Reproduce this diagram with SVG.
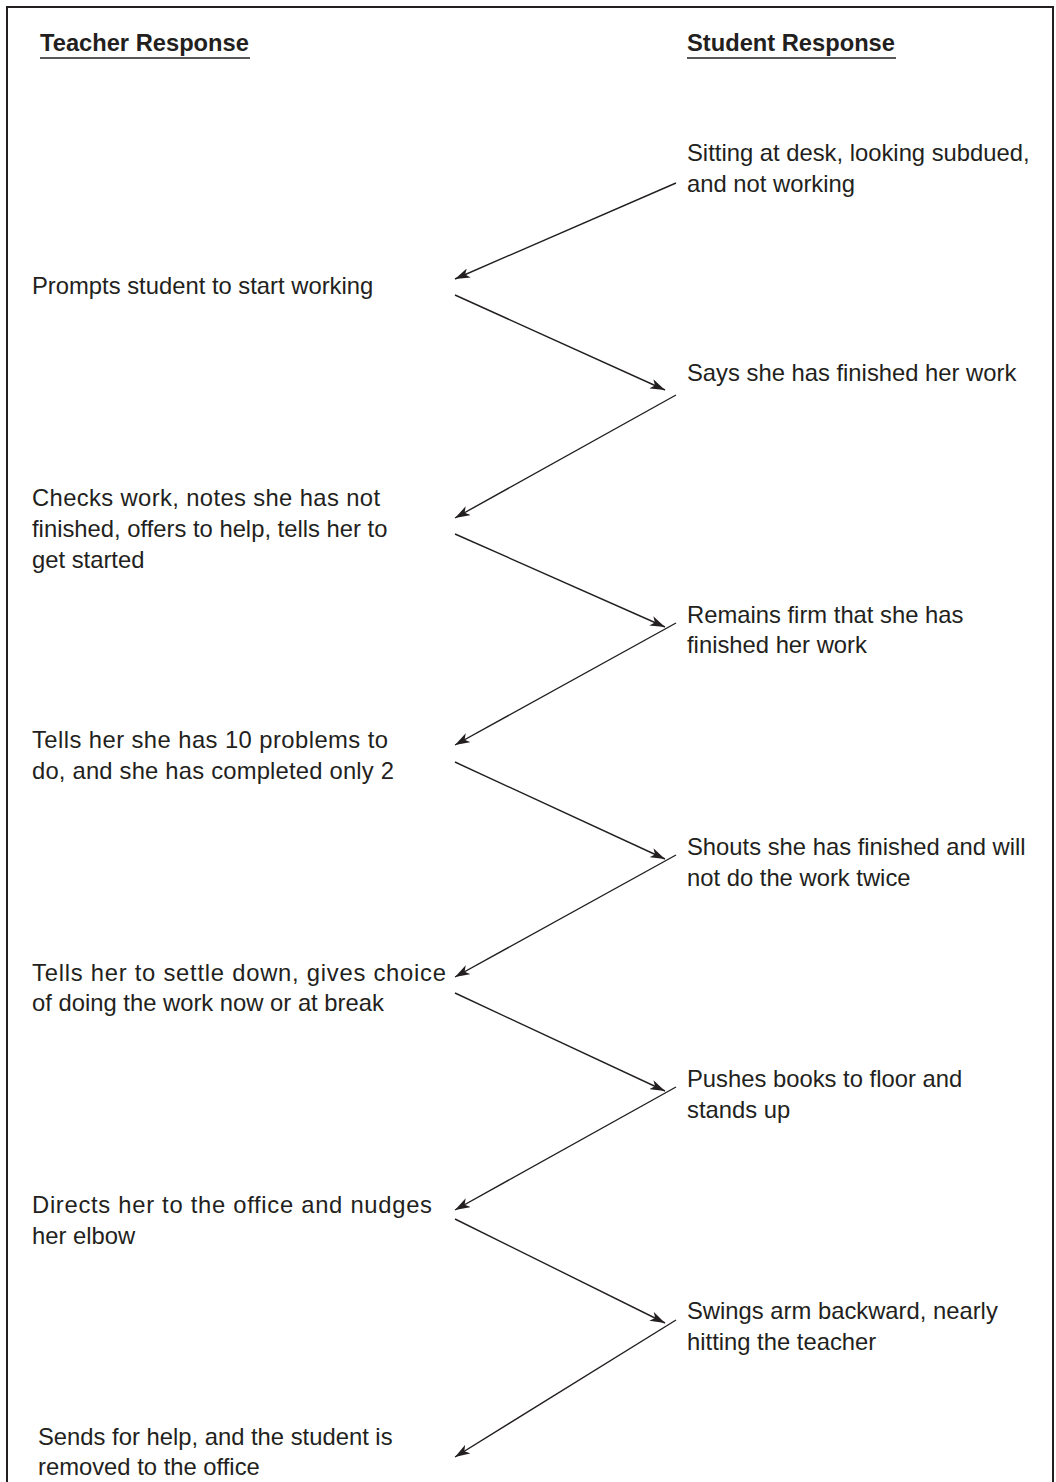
<svg xmlns="http://www.w3.org/2000/svg" width="1056" height="1482" viewBox="0 0 1056 1482">
<style>
text{font-family:"Liberation Sans",Arial,Helvetica,sans-serif;font-size:23.8px;fill:#231f20}
.h{font-weight:bold;font-size:23.7px}
.c line{stroke:#231f20;stroke-width:1.4}
</style>
<defs>
<marker id="ah" viewBox="0 0 15 10" refX="15" refY="5" markerWidth="15" markerHeight="10" markerUnits="userSpaceOnUse" orient="auto">
<path d="M0,0 L15,5 L0,10 L4,5 Z" fill="#231f20"/>
</marker>
</defs>
<rect width="1056" height="1482" fill="#fff"/>
<path d="M7,1482 V7 H1053 V1482" fill="none" stroke="#231f20" stroke-width="2"/>
<g id="headers">
<text class="h" x="40" y="51">Teacher Response</text>
<line x1="40" y1="58" x2="250" y2="58" stroke="#231f20" stroke-width="1.6"/>
<text class="h" x="687" y="51">Student Response</text>
<line x1="687" y1="58" x2="896" y2="58" stroke="#231f20" stroke-width="1.6"/>
</g>
<g id="s1"><text x="687" y="161">Sitting at desk, looking subdued,</text><text x="687" y="192">and not working</text></g>
<g id="t1"><text x="32" y="294">Prompts student to start working</text></g>
<g id="s2"><text x="687" y="381">Says she has finished her work</text></g>
<g id="t2"><text x="32" y="506" textLength="348" lengthAdjust="spacing">Checks work, notes she has not</text><text x="32" y="537">finished, offers to help, tells her to</text><text x="32" y="568">get started</text></g>
<g id="s3"><text x="687" y="623">Remains firm that she has</text><text x="687" y="653">finished her work</text></g>
<g id="t3"><text x="32" y="748" textLength="356" lengthAdjust="spacing">Tells her she has 10 problems to</text><text x="32" y="779" textLength="362" lengthAdjust="spacing">do, and she has completed only 2</text></g>
<g id="s4"><text x="687" y="855">Shouts she has finished and will</text><text x="687" y="886">not do the work twice</text></g>
<g id="t4"><text x="32" y="981" textLength="414" lengthAdjust="spacing">Tells her to settle down, gives choice</text><text x="32" y="1011">of doing the work now or at break</text></g>
<g id="s5"><text x="687" y="1087">Pushes books to floor and</text><text x="687" y="1118">stands up</text></g>
<g id="t5"><text x="32" y="1213" textLength="400" lengthAdjust="spacing">Directs her to the office and nudges</text><text x="32" y="1244">her elbow</text></g>
<g id="s6"><text x="687" y="1319">Swings arm backward, nearly</text><text x="687" y="1350">hitting the teacher</text></g>
<g id="t6"><text x="38" y="1445">Sends for help, and the student is</text><text x="38" y="1475">removed to the office</text></g>
<g id="connectors" class="c">
<line x1="676" y1="183" x2="455" y2="279" marker-end="url(#ah)"/>
<line x1="455" y1="295" x2="665" y2="390" marker-end="url(#ah)"/>
<line x1="676" y1="395" x2="455" y2="518" marker-end="url(#ah)"/>
<line x1="455" y1="534" x2="665" y2="627" marker-end="url(#ah)"/>
<line x1="676" y1="623" x2="455" y2="745" marker-end="url(#ah)"/>
<line x1="455" y1="762" x2="665" y2="859" marker-end="url(#ah)"/>
<line x1="676" y1="855" x2="455" y2="977" marker-end="url(#ah)"/>
<line x1="455" y1="993" x2="665" y2="1091" marker-end="url(#ah)"/>
<line x1="676" y1="1087" x2="455" y2="1210" marker-end="url(#ah)"/>
<line x1="455" y1="1219" x2="665" y2="1323" marker-end="url(#ah)"/>
<line x1="676" y1="1320" x2="455" y2="1457" marker-end="url(#ah)"/>
</g>
</svg>
